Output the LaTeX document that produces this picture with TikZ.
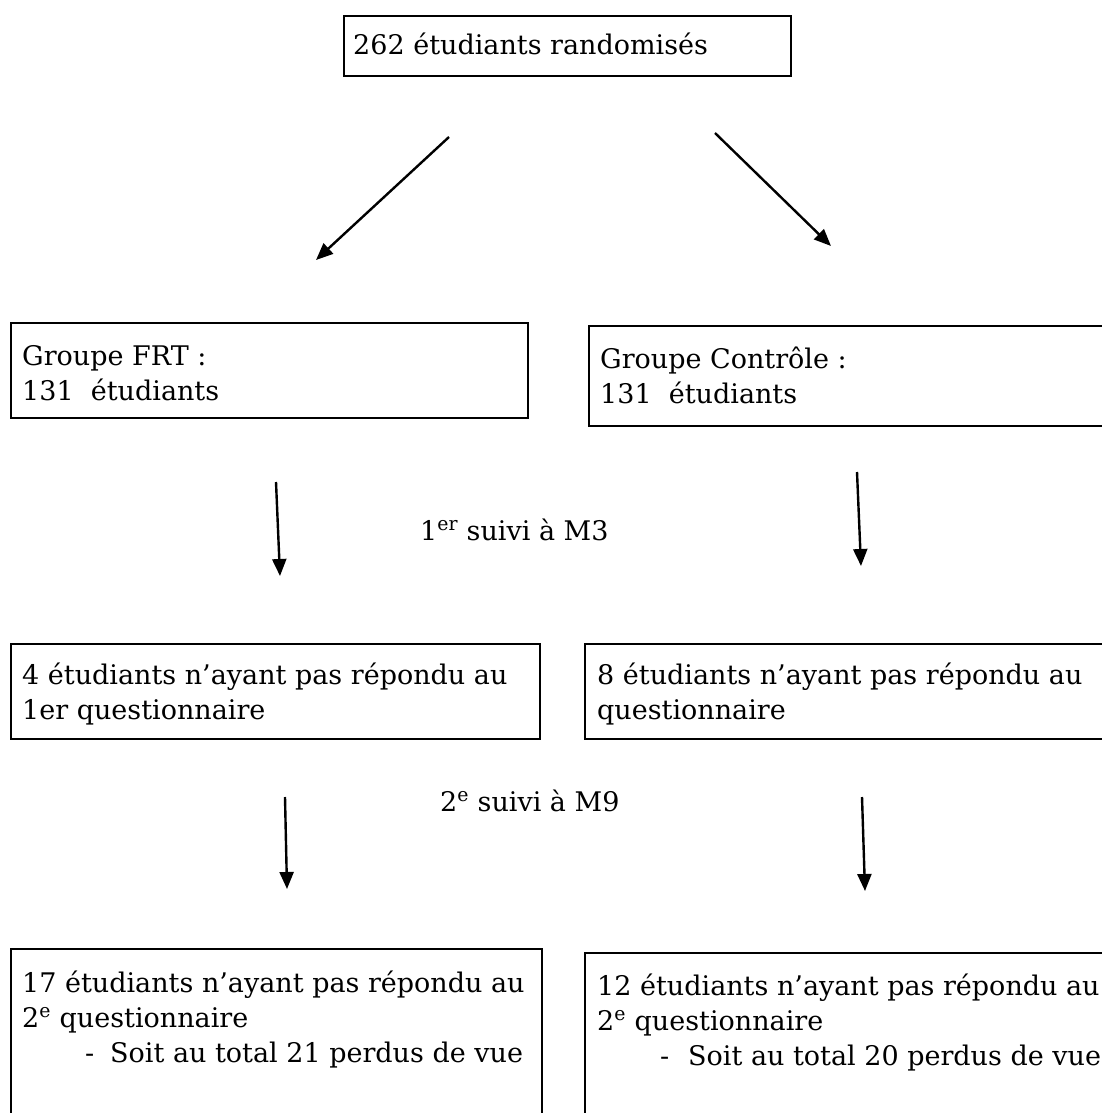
\documentclass[tikz,border=0pt]{standalone}
\usepackage{fontspec}
\setmainfont{DejaVu Serif}
\usetikzlibrary{arrows.meta}
\begin{document}
\begin{tikzpicture}[x=1pt,y=-1pt,
  box/.style={draw=black, line width=2pt, rectangle, inner sep=0pt, anchor=north west},
  txt/.style={anchor=base west, inner sep=0pt, font=\fontsize{27}{35}\selectfont},
  arr/.style={line width=2.4pt, -{Triangle[length=17pt,width=14pt]}}]
\useasboundingbox (0,0) rectangle (1102,1113);
\clip (0,0) rectangle (1102,1113);
\fill[white] (0,0) rectangle (1102,1113);

% boxes
\node[box, minimum width=447pt, minimum height=60pt] (top) at (343,15) {};
\node[box, minimum width=517pt, minimum height=95pt] (frt) at (10,322) {};
\node[box, minimum width=540pt, minimum height=100pt] (ctrl) at (588,325) {};
\node[box, minimum width=529pt, minimum height=95pt] (r3l) at (10,643) {};
\node[box, minimum width=540pt, minimum height=95pt] (r3r) at (584,643) {};
\node[box, minimum width=531pt, minimum height=200pt] (r4l) at (10,948) {};
\node[box, minimum width=540pt, minimum height=200pt] (r4r) at (584,952) {};

% texts
\node[txt] (t0) at (353,55) {262 étudiants randomisés};
\node[txt] (t1a) at (22,365) {Groupe FRT :};
\node[txt] (t1b) at (22,400) {131\ \ étudiants};
\node[txt] (t2a) at (600,368) {Groupe Contrôle :};
\node[txt] (t2b) at (600,403) {131\ \ étudiants};
\node[txt] (t3a) at (22,684) {4 étudiants n’ayant pas répondu au};
\node[txt] (t3b) at (22,719) {1er questionnaire};
\node[txt] (t4a) at (597,684) {8 étudiants n’ayant pas répondu au};
\node[txt] (t4b) at (597,719) {questionnaire};
\node[txt] (t5a) at (22,992) {17 étudiants n’ayant pas répondu au};
\node[txt] (t5b) at (22,1027) {2\textsuperscript{e} questionnaire};
\node[txt] (t5c) at (85,1062) {-};
\node[txt] (t5d) at (110,1062) {Soit au total 21 perdus de vue};
\node[txt] (t6a) at (597,995) {12 étudiants n’ayant pas répondu au};
\node[txt] (t6b) at (597,1030) {2\textsuperscript{e} questionnaire};
\node[txt] (t6c) at (660,1065) {-};
\node[txt] (t6d) at (688,1065) {Soit au total 20 perdus de vue};

% labels
\node[txt] (l1) at (420,540) {1\textsuperscript{er} suivi à M3};
\node[txt] (l2) at (440,811) {2\textsuperscript{e} suivi à M9};

% arrow end points
\coordinate (a1s) at (449,137); \coordinate (a1e) at (316,260);
\coordinate (a2s) at (715,133); \coordinate (a2e) at (831,246);
\coordinate (a3s) at (276,482); \coordinate (a3e) at (280,576);
\coordinate (a4s) at (857,472); \coordinate (a4e) at (861,566);
\coordinate (a5s) at (285,797); \coordinate (a5e) at (287,889);
\coordinate (a6s) at (862,797); \coordinate (a6e) at (865,891);

\draw[arr] (a1s) -- (a1e);
\draw[arr] (a2s) -- (a2e);
\draw[arr] (a3s) -- (a3e);
\draw[arr] (a4s) -- (a4e);
\draw[arr] (a5s) -- (a5e);
\draw[arr] (a6s) -- (a6e);
\end{tikzpicture}
\end{document}
